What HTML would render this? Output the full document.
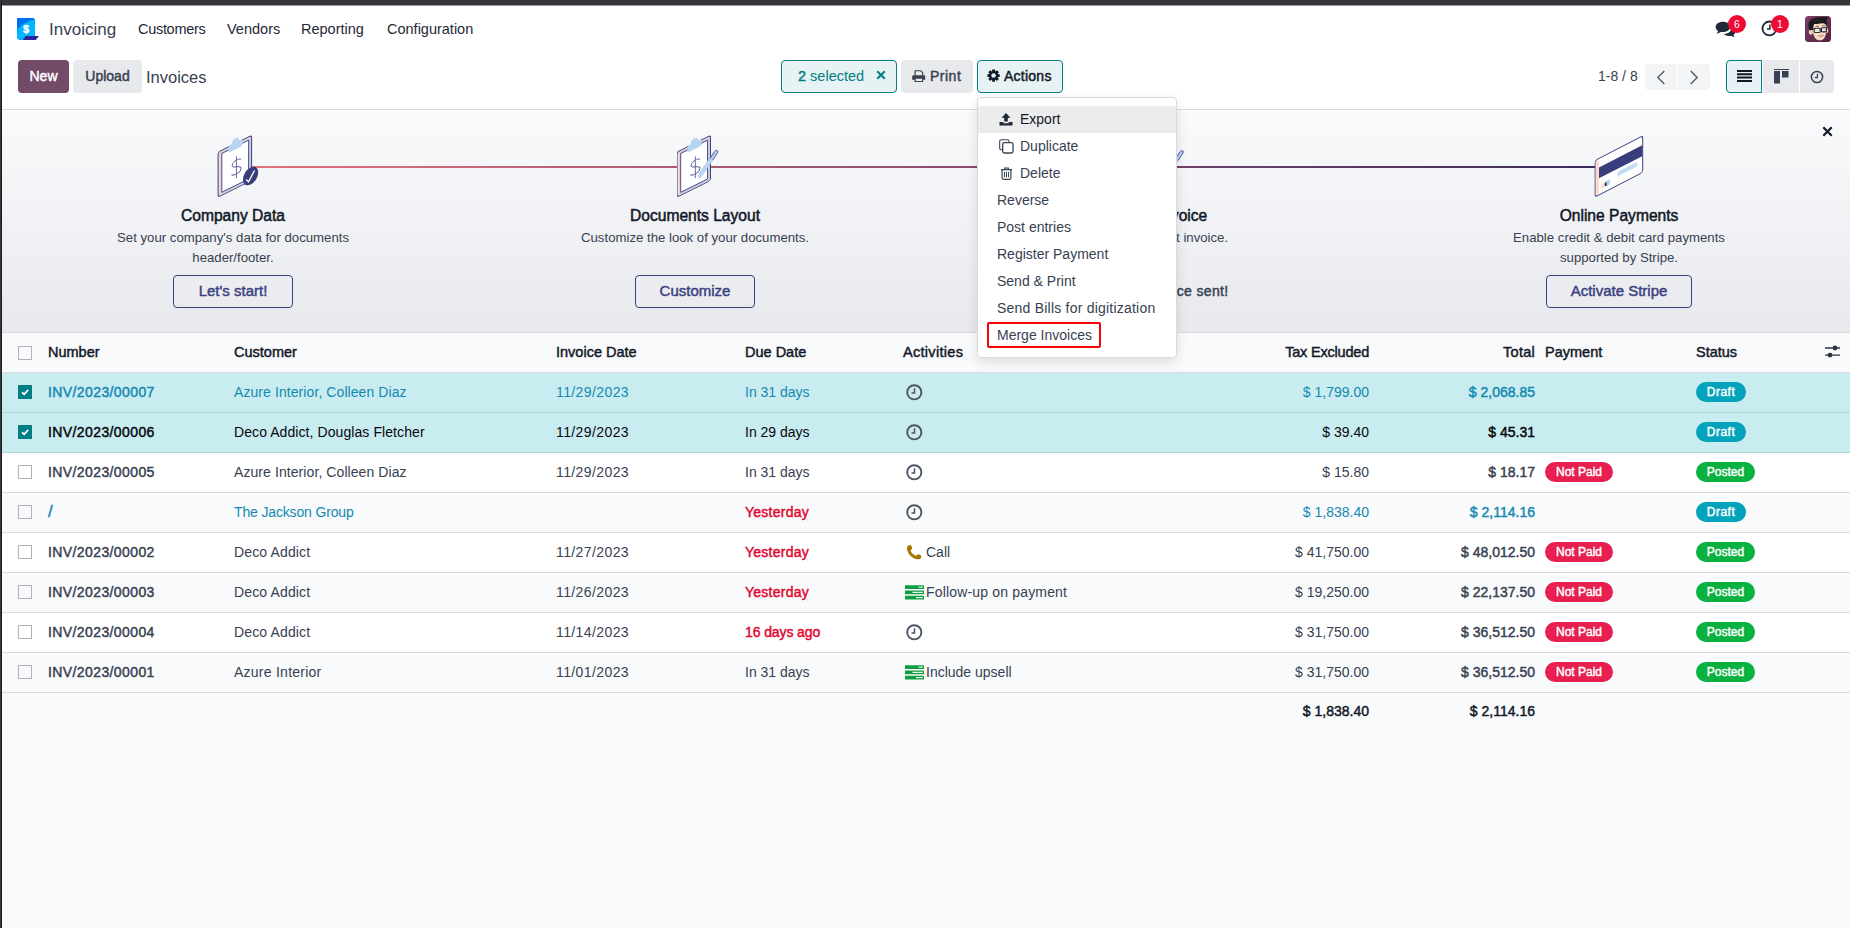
<!DOCTYPE html>
<html lang="en">
<head>
<meta charset="utf-8">
<title>Odoo - Invoices</title>
<style>
*{box-sizing:border-box;margin:0;padding:0}
html,body{width:1850px;height:928px;overflow:hidden}
body{font-family:"Liberation Sans",sans-serif;font-size:14px;color:#374151;background:#f9fafb;position:relative}
.abs{position:absolute}
#topbar{left:0;top:0;width:1850px;height:6px;background:linear-gradient(180deg,#36353a 0,#36353a 5px,#9b9a9d 5px,#9b9a9d 6px);z-index:5}
#leftbar{z-index:6;left:0;top:0;width:2px;height:928px;background:linear-gradient(90deg,#393939 0,#393939 1px,#1a1a1a 1px,#1a1a1a 2px)}
#navbar{left:0;top:5px;width:1850px;height:46px;background:#fff}
#cpanel{left:0;top:51px;width:1850px;height:59px;background:#fff;border-bottom:1px solid #d8dadd}
.nav{position:absolute;top:0;height:46px;line-height:48px;font-size:14.5px;color:#1f2937;white-space:nowrap}
.btn{position:absolute;border-radius:4px;font-size:14px;font-weight:400;-webkit-text-stroke:.45px;text-align:center;white-space:nowrap;height:33px;line-height:32px;top:9px}
.btn-primary{background:#714b67;color:#fff}
.btn-sec{background:#e7e9ed;color:#374151}
.btn-sel{background:#e6f2f3;border:1px solid #017e84;color:#017e84;line-height:30px}
.bdg{width:18px;height:18px;border-radius:9px;background:#ee0a35;color:#fff;font-size:10.500px;line-height:18px;text-align:center}
.ic{position:absolute}
.pg{position:absolute;top:13px;height:26px;width:32px;background:#f3f4f6}
.vs{position:absolute;top:9px;height:33px;background:#e7e9ed}

#onboard{left:0;top:110px;width:1850px;height:223px;background:linear-gradient(180deg,#f9fafb 0%,#f1f2f5 50%,#e7e9ed 100%);border-bottom:1px solid #d8dadd;overflow:hidden}
#obline{left:233px;top:56px;width:1386px;height:2px;background:linear-gradient(90deg,#e4737f,#382b5e)}
.step{top:0;width:462px;height:222px}
.st-t{left:0;width:462px;top:96px;text-align:center;font-size:15.600px;font-weight:400;-webkit-text-stroke:.5px;color:#111827;line-height:20px}
.st-d{left:0;width:462px;top:118px;text-align:center;font-size:13.200px;line-height:20px;color:#374151}
.st-b{top:165px;height:33px;line-height:29.500px;border:1px solid #3b3f7f;border-radius:4px;text-align:center;color:#3b3f7f;font-weight:400;-webkit-text-stroke:.45px;font-size:15px}
.st-done{left:0;width:462px;top:171px;text-align:center;font-weight:400;-webkit-text-stroke:.45px;font-size:14px;color:#374151;line-height:20px}
#list{left:0;top:333px;width:1850px;height:400px}
.row{position:absolute;left:0;width:1850px;height:40px;border-bottom:1px solid #d8dadd;background:#fff;line-height:39px;white-space:nowrap}
.row.odd{background:#f9fafb}
.row.sel{background:#c9ecf0;border-bottom-color:#b1d5da}
.row.hd{background:#f9fafb;font-weight:400;-webkit-text-stroke:.45px;color:#111827;font-size:14.500px}
.row.ft{background:#f9fafb;border-bottom:0;line-height:37px}
.row.info{color:#1489b0}
.row.blk{color:#06080d}
.c{position:absolute;top:0}
.c.m{font-weight:400;-webkit-text-stroke:.45px}
.c.n{letter-spacing:.4px}
.c.d{letter-spacing:.4px}
.c.b{font-weight:400;-webkit-text-stroke:.45px;color:#111827}
.c.late{color:#e0062f;font-weight:400;-webkit-text-stroke:.45px;letter-spacing:.25px}
.cb{position:absolute;left:18px;top:12px;width:14px;height:14px;border:1px solid #b2b3b6;border-radius:.500px;background:transparent}
.cb.on{background:#017e84;border-color:#017e84;border-radius:.500px}
.cb svg{position:absolute;left:-1px;top:-1px}
.pill{position:absolute;top:9px;height:20px;line-height:21px;border-radius:10px;text-align:center;font-size:12px;font-weight:400;-webkit-text-stroke:.45px;color:#fff}
.pill.dr{background:#02a3ba;width:50px;letter-spacing:.5px}
.pill.po{background:#08b140;width:59px}
.pill.np{background:#e7204f;width:68px}
#menu{left:977px;top:97px;width:200px;height:261px;background:#fff;border:1px solid #d8dadd;border-radius:4px;box-shadow:0 4px 12px rgba(0,0,0,.12)}
.mi{position:absolute;left:0;width:198px;height:27px;line-height:27px;font-size:14px;color:#374151;white-space:nowrap}
.mi.hov{background:#ececec;color:#111827}
#redbox{left:9px;top:223.500px;width:114px;height:26px;border:2px solid #f80008;border-radius:2px}
</style>
</head>
<body>
<div id="topbar" class="abs"></div>

<!-- ============ NAVBAR ============ -->
<div id="navbar" class="abs">
  <svg class="abs" style="left:17px;top:13px" width="23" height="22" viewBox="0 0 23 22">
    <defs><clipPath id="lg"><path d="M0 0H16.4L18 1.5V18.1H8.6L5.7 22H4Q0 22 0 18Z"/></clipPath></defs>
    <path d="M0 0H16.4L18 1.5V18.1H8.6L5.7 22H4Q0 22 0 18Z" fill="#0070f2"/>
    <circle cx="22.4" cy="29.6" r="28.5" fill="#00b6ff" clip-path="url(#lg)"/>
    <path d="M8.6 18.1H21.9L18.8 21.9H5.7Z" fill="#27279a"/>
    <text x="9" y="14.9" font-family="Liberation Sans" font-weight="700" font-size="11" fill="#fff" text-anchor="middle" stroke="#fff" stroke-width="0.4">$</text>
  </svg>
  <span class="nav" id="brand" style="left:49px;top:1px;font-size:17px;color:#374151">Invoicing</span>
  <span class="nav" style="left:138px;letter-spacing:-.3px">Customers</span>
  <span class="nav" style="left:227px">Vendors</span>
  <span class="nav" style="left:301px">Reporting</span>
  <span class="nav" style="left:387px">Configuration</span>

  <!-- systray -->
  <svg class="abs" style="left:1715px;top:16.3px" width="22" height="17.6" viewBox="0 0 20 16">
    <path d="M7.2 0.6C3.4 0.6 0.6 2.7 0.6 5.4c0 1.5 0.9 2.8 2.3 3.7c-0.2 0.8-0.7 1.6-1.4 2.2c1.4-0.1 2.7-0.6 3.7-1.4c0.6 0.1 1.3 0.2 2 0.2c3.8 0 6.6-2.1 6.6-4.8S11 0.6 7.2 0.6Z" fill="#1f2937"/>
    <path d="M15 6.3c0 2.9-3.1 5.3-7 5.5c1.1 1.1 2.9 1.8 4.9 1.8c0.6 0 1.200-0.100 1.800-0.200c0.900 0.700 2.100 1.200 3.300 1.300c-0.600-0.600-1-1.300-1.200-2c1.100-0.800 1.800-1.900 1.800-3.100c0-1.700-1.400-3.100-3.400-3.800c0 0.200-0.200 0.300-0.200 0.500Z" fill="#1f2937"/>
  </svg>
  <div class="abs bdg" style="left:1728px;top:9.700px">6</div>
  <svg class="abs" style="left:1761px;top:15px" width="17" height="17" viewBox="0 0 17 17">
    <circle cx="8.4" cy="8.4" r="6.9" fill="#fff" stroke="#1f2937" stroke-width="1.8"/>
    <path d="M8.9 4.6V9.1H6" fill="none" stroke="#1f2937" stroke-width="1.5"/>
  </svg>
  <div class="abs bdg" style="left:1771px;top:9.700px">1</div>
  <svg class="abs" style="left:1805px;top:11px" width="26" height="26" viewBox="0 0 26 26">
    <defs>
      <linearGradient id="avg" x1="0" y1="0" x2="1" y2="1"><stop offset="0" stop-color="#7a4068"/><stop offset="1" stop-color="#57203f"/></linearGradient>
      <clipPath id="avc"><rect width="26" height="26" rx="3.5"/></clipPath>
    </defs>
    <g clip-path="url(#avc)">
      <rect width="26" height="26" fill="url(#avg)"/>
      <ellipse cx="5.900" cy="16" rx="2.100" ry="2.800" fill="#f3cdb0"/>
      <ellipse cx="22" cy="14.600" rx="1.300" ry="2.400" fill="#f3cdb0"/>
      <path d="M8 8C8.200 5.500 20.800 5 21.300 9C21.700 13 21.400 18 19.600 21.500C17.800 24.900 12.500 25.300 10.500 22.600C8.200 19.500 7.500 14 8 8Z" fill="#fae0c6"/>
      <path d="M12 22.800C10 20.500 9 17 8.600 14C10 19 12.500 22 16 23.800C14.500 24.400 13 23.900 12 22.800Z" fill="#f6d0b2"/>
      <path d="M4.300 13.800C2.300 8 4 3.800 9 2.300C13 1 18 1.200 22.200 1C23 2 22.400 3.500 21.400 4.300C22.700 6 22.300 8.500 21.300 10C20.700 8 19.400 7 17.500 7.200C14 7.600 11.500 8.300 9.200 7.900C8.300 9.500 8.400 11.500 8.100 13.600C6.800 14.500 5.200 14.600 4.300 13.800Z" fill="#1a1a1c"/>
      <path d="M7 6.500C9.500 4.800 13 4 17.500 4.500C14 3 9 3.500 7 6.500Z" fill="#3a3a3e"/>
      <rect x="9.200" y="12.200" width="6" height="4.300" rx="0.900" fill="#ece8e4" stroke="#26262a" stroke-width="1.150"/>
      <rect x="16.400" y="11.700" width="5" height="4.200" rx="0.900" fill="#ece8e4" stroke="#26262a" stroke-width="1.150"/>
      <path d="M15.200 13.800H16.400M9.200 13.400L7.600 12.900" stroke="#26262a" stroke-width="1" fill="none"/>
      <path d="M10.500 10.600C11.500 10 13 10 14 10.500M17 10C18 9.500 19.500 9.500 20.500 10" stroke="#3a2a22" stroke-width="0.700" fill="none"/>
      <path d="M15.300 17.600C15.800 18.100 16.800 18.100 17.300 17.600" stroke="#e9a590" stroke-width="0.800" fill="none"/>
      <path d="M13 19.300C14.800 19.900 17 19.700 18.600 19C18.200 21.300 14 21.800 13 19.300Z" fill="#f4f0ec" stroke="#b4685a" stroke-width="0.600"/>
    </g>
  </svg>
</div>

<!-- ============ CONTROL PANEL ============ -->
<div id="cpanel" class="abs">
  <div class="btn btn-primary" style="left:18px;width:51px">New</div>
  <div class="btn btn-sec" style="left:73px;width:69px">Upload</div>
  <span class="abs" id="bc" style="left:146px;top:14px;font-size:16.5px;line-height:24px;color:#374151">Invoices</span>

  <div class="btn btn-sel" style="left:781px;width:116px;-webkit-text-stroke:0;text-align:left;font-size:14.5px">
    <span class="abs" style="left:16px;top:0"><span style="-webkit-text-stroke:.45px">2</span> selected</span>
    <svg class="abs" style="left:94px;top:9px" width="10" height="10" viewBox="0 0 10 10"><path d="M1.200 1.200L8.800 8.800M8.800 1.200L1.200 8.800" stroke="#017e84" stroke-width="2" fill="none"/></svg>
  </div>
  <div class="btn btn-sec" style="left:901px;width:72px;text-align:left">
    <svg class="abs" style="left:11px;top:10px" width="14" height="13" viewBox="0 0 14 13">
      <path d="M3.100 5.400V0.700H8.700L10.600 2.600V5.400" fill="none" stroke="#374151" stroke-width="1.150"/>
      <path d="M1.400 5.300H12Q13.200 5.300 13.200 6.500V9.700H10.600V8.800H3.100V9.700H0.200V6.500Q0.200 5.300 1.400 5.300Z" fill="#374151"/>
      <path d="M3.100 8.800V11.500H10.600V8.800" fill="none" stroke="#374151" stroke-width="1.150"/>
    </svg>
    <span class="abs" style="left:29px;top:0;letter-spacing:.5px">Print</span>
  </div>
  <div class="btn btn-sel" style="left:977px;width:86px;color:#111827;text-align:left">
    <svg class="abs" style="left:9.300px;top:8.400px" width="13.200" height="13.200" viewBox="-7 -7 14 14">
      <g fill="#111827">
        <rect x="-1.500" y="-6.500" width="3" height="13"/>
        <rect x="-1.500" y="-6.500" width="3" height="13" transform="rotate(45)"/>
        <rect x="-1.500" y="-6.500" width="3" height="13" transform="rotate(90)"/>
        <rect x="-1.500" y="-6.500" width="3" height="13" transform="rotate(135)"/>
      </g>
      <circle r="3.700" fill="none" stroke="#111827" stroke-width="2.400"/>
      <circle r="2.400" fill="#e6f2f3"/>
    </svg>
    <span class="abs" style="left:26px;top:0;letter-spacing:.25px">Actions</span>
  </div>

  <span class="abs" id="pgr" style="left:1598px;top:14px;font-size:14px;line-height:22px;color:#374151">1-8 / 8</span>
  <div class="pg" style="left:1645px;border-radius:4px 0 0 4px"><svg class="abs" style="left:11px;top:6px" width="10" height="15" viewBox="0 0 10 15"><path d="M8.300 1L1.800 7.500L8.300 14" fill="none" stroke="#4b5563" stroke-width="1.300"/></svg></div>
  <div class="pg" style="left:1678px;border-radius:0 4px 4px 0"><svg class="abs" style="left:11px;top:6px" width="10" height="15" viewBox="0 0 10 15"><path d="M1.700 1L8.200 7.500L1.700 14" fill="none" stroke="#4b5563" stroke-width="1.300"/></svg></div>

  <div class="vs" style="left:1726px;width:36px;background:#e6f2f3;border:1px solid #017e84;border-radius:4px 0 0 4px">
    <svg class="abs" style="left:10px;top:9px" width="15" height="12" viewBox="0 0 15 12"><path d="M0 1H15M0 4.300H15M0 7.600H15M0 10.900H15" stroke="#111827" stroke-width="2"/></svg>
  </div>
  <div class="vs" style="left:1763px;width:36px">
    <svg class="abs" style="left:11px;top:9px" width="15" height="15" viewBox="0 0 15 15"><path d="M0 0.500H15" stroke="#374151" stroke-width="1"/><rect x="0" y="2" width="6" height="12.500" fill="#374151"/><rect x="8" y="2" width="6.500" height="6.500" fill="#374151"/></svg>
  </div>
  <div class="vs" style="left:1800px;width:34px;border-radius:0 4px 4px 0">
    <svg class="abs" style="left:10px;top:10px" width="14" height="14" viewBox="0 0 14 14"><circle cx="7" cy="7" r="5.600" fill="none" stroke="#374151" stroke-width="1.500"/><path d="M7.400 3.800V7.600H4.800" fill="none" stroke="#374151" stroke-width="1.300"/></svg>
  </div>
</div>

<div id="onboard" class="abs">

  <svg width="0" height="0" style="position:absolute">
    <defs>
      <g id="board">
        <g transform="translate(3.1,22) skewY(-26.3)">
          <rect x="0" y="0" width="33.500" height="45" rx="2.200" fill="#fcd9cc" stroke="#3b3f7f" stroke-width="1"/>
          <path d="M2.500 1.600H31.200Q32.900 1.600 32.900 3.300V43.400Q32.900 44.400 31.900 44.400H2.500Z" fill="#c9cce0"/>
          <rect x="3.700" y="3.300" width="26.800" height="38.800" fill="#fff" stroke="#3b3f7f" stroke-width="0.800"/>
          <path d="M10.400 4V1.200Q10.400 -1 12.600 -1H13.600Q14 -5 17.500 -5Q21 -5 21.400 -1H22.400Q24.600 -1 24.600 1.200V4Q24.600 6 22.600 6H12.400Q10.400 6 10.400 4Z" fill="#b7d4f3"/>
          <path transform="translate(0,5.200)" d="M22.800 13.300C21 11.400 14.300 11.100 14 15.300C13.800 19.500 23.200 18 23 22.500C22.800 26.700 15.300 26.400 13.400 24.200M18.300 8.200V30" fill="none" stroke="#5a5e9c" stroke-width="0.900"/>
        </g>
      </g>
    </defs>
  </svg>
  <div class="abs" id="obline"></div>
  <div class="abs step" style="left:2px">
    <svg class="abs" style="left:213px;top:20px" width="60" height="70" viewBox="0 0 60 70"><use href="#board"/><ellipse cx="35.600" cy="46" rx="6.400" ry="10.200" transform="rotate(32 35.600 46)" fill="#383d7c"/><path d="M31.200 49.500L33.500 51.800L39.500 40.500" fill="none" stroke="#fff" stroke-width="1.300"/></svg>
    <div class="abs st-t">Company Data</div>
    <div class="abs st-d">Set your company's data for documents<br>header/footer.</div>
    <div class="abs st-b" style="left:171px;width:120px">Let's start!</div>
  </div>
  <div class="abs step" style="left:464px">
    <svg class="abs" style="left:213px;top:20px" width="60" height="70" viewBox="0 0 60 70"><g transform="translate(-3.100,0)"><use href="#board"/><g transform="translate(2.200,-10.300)"><path d="M22.500 57.300C21.800 55 27 48 38.500 31.800C40.500 29.800 42.500 30.500 41.500 32.800C33 46 27 54.500 24.500 57.500C23.500 58.500 22.800 58 22.500 57.300Z" fill="#b7d4f3" stroke="#b7d4f3" stroke-width="0.900"/><path d="M33.500 39.500L38.300 32C40.300 29.800 42.600 30.600 41.400 33L36.500 40.500" fill="none" stroke="#3b3f7f" stroke-width="0.800"/></g></g></svg>
    <div class="abs st-t">Documents Layout</div>
    <div class="abs st-d">Customize the look of your documents.</div>
    <div class="abs st-b" style="left:171px;width:120px">Customize</div>
  </div>
  <div class="abs step" style="left:926px">
    <svg class="abs" style="left:213px;top:20px" width="60" height="70" viewBox="0 0 60 70"><g transform="translate(0.400,0.300)"><use href="#board"/><g transform="translate(2.200,-10.300)"><path d="M22.500 57.300C21.800 55 27 48 38.500 31.800C40.500 29.800 42.500 30.500 41.500 32.800C33 46 27 54.500 24.500 57.500C23.500 58.500 22.800 58 22.500 57.300Z" fill="#b7d4f3" stroke="#b7d4f3" stroke-width="0.900"/><path d="M33.500 39.500L38.300 32C40.300 29.800 42.600 30.600 41.400 33L36.500 40.500" fill="none" stroke="#3b3f7f" stroke-width="0.800"/></g></g></svg>
    <div class="abs st-t">Create Invoice</div>
    <div class="abs st-d">Create your first invoice.</div>
    <div class="abs st-done" style="left:auto;right:159.500px;width:auto;white-space:nowrap;letter-spacing:.35px"><svg width="13" height="11" viewBox="0 0 13 11" style="vertical-align:-1px;margin-right:5px"><path d="M1 6L4.700 9.500L12 1.500" fill="none" stroke="#374151" stroke-width="2.200"/></svg>Invoice sent!</div>
  </div>
  <div class="abs step" style="left:1388px">
    <svg class="abs" style="left:201px;top:20px" width="60" height="70" viewBox="0 0 60 70"><path d="M5.500 40.800L51.200 16.700Q52.900 15.900 52.900 17.800V49.500Q52.900 50.500 52 51L9.500 75.400Q7.200 76.600 5.400 75.400Z" transform="translate(0,0)" fill="none"/>
<g transform="translate(6.200,30.300) skewY(-27.200)">
  <rect x="0" y="0" width="47.500" height="36.600" rx="2.200" fill="#fff" stroke="#3b3f7f" stroke-width="1"/>
  <rect x="0.500" y="1.500" width="3.200" height="33.600" fill="#fcd9cc"/>
  <rect x="3.800" y="9.200" width="43.200" height="10.800" fill="#383d7c"/>
  <rect x="22" y="23.200" width="20.500" height="4.400" rx="2.200" fill="#c3dbf6"/>
  <ellipse cx="8.800" cy="29.200" rx="2.800" ry="3.100" fill="#fcd9cc"/>
  <ellipse cx="12.300" cy="29.200" rx="2.800" ry="3.100" fill="#b7d4f3"/>
  <path d="M10.550 27A2.800 3.100 0 0 1 10.550 31.400A2.800 3.100 0 0 1 10.550 27Z" fill="#1f2350"/>
</g></svg>
    <div class="abs st-t">Online Payments</div>
    <div class="abs st-d">Enable credit &amp; debit card payments<br>supported by Stripe.</div>
    <div class="abs st-b" style="left:158px;width:146px">Activate Stripe</div>
  </div>
  <svg class="abs" style="left:1822px;top:16px" width="11" height="11" viewBox="0 0 11 11"><path d="M1.300 1.300L9.700 9.700M9.700 1.300L1.300 9.700" stroke="#111827" stroke-width="2.200" fill="none"/></svg>
</div>
<div id="list" class="abs">
  <div class="row hd" style="top:0"><span class="cb" style="top:13px"></span><span class="c" style="left:48px">Number</span><span class="c" style="left:234px">Customer</span><span class="c" style="left:556px">Invoice Date</span><span class="c" style="left:745px">Due Date</span><span class="c" style="left:903px;letter-spacing:.3px">Activities</span><span class="c r" style="right:481px;letter-spacing:-.2px">Tax Excluded</span><span class="c r" style="right:315px;letter-spacing:.25px">Total</span><span class="c" style="left:1545px">Payment</span><span class="c" style="left:1696px">Status</span><svg class="abs" style="left:1825px;top:12.400px" width="15" height="13" viewBox="0 0 15 13"><path d="M0 3H15M0 10.100H15" stroke="#2b3342" stroke-width="1.300"/><circle cx="10" cy="3" r="2.400" fill="#2b3342"/><circle cx="5" cy="10.100" r="2.400" fill="#2b3342"/></svg></div>
  <div class="row sel info" style="top:40px"><span class="cb on"><svg width="14" height="14" viewBox="0 0 14 14"><path d="M4 7.300L6.200 9.300L10.200 4.900" fill="none" stroke="#fff" stroke-width="1.700"/></svg></span><span class="c m n" style="left:48px">INV/2023/00007</span><span class="c" style="left:234px;letter-spacing:.08px">Azure Interior, Colleen Diaz</span><span class="c d" style="left:556px">11/29/2023</span><span class="c" style="left:745px">In 31 days</span><svg class="abs" style="left:905px;top:10px" width="18" height="18" viewBox="0 0 18 18"><circle cx="9.300" cy="9.300" r="7.100" fill="none" stroke="#4b5563" stroke-width="1.900"/><path d="M9.500 5.300V9.900H6.500" fill="none" stroke="#4b5563" stroke-width="1.500"/></svg><span class="c r" style="right:481px">$ 1,799.00</span><span class="c r m" style="right:315px">$ 2,068.85</span><span class="pill dr" style="left:1696px">Draft</span></div>
  <div class="row sel blk" style="top:80px"><span class="cb on"><svg width="14" height="14" viewBox="0 0 14 14"><path d="M4 7.300L6.200 9.300L10.200 4.900" fill="none" stroke="#fff" stroke-width="1.700"/></svg></span><span class="c m n" style="left:48px">INV/2023/00006</span><span class="c" style="left:234px;letter-spacing:.08px">Deco Addict, Douglas Fletcher</span><span class="c d" style="left:556px">11/29/2023</span><span class="c" style="left:745px">In 29 days</span><svg class="abs" style="left:905px;top:10px" width="18" height="18" viewBox="0 0 18 18"><circle cx="9.300" cy="9.300" r="7.100" fill="none" stroke="#4b5563" stroke-width="1.900"/><path d="M9.500 5.300V9.900H6.500" fill="none" stroke="#4b5563" stroke-width="1.500"/></svg><span class="c r" style="right:481px">$ 39.40</span><span class="c r m" style="right:315px">$ 45.31</span><span class="pill dr" style="left:1696px">Draft</span></div>
  <div class="row" style="top:120px"><span class="cb"></span><span class="c m n" style="left:48px">INV/2023/00005</span><span class="c" style="left:234px;letter-spacing:.08px">Azure Interior, Colleen Diaz</span><span class="c d" style="left:556px">11/29/2023</span><span class="c" style="left:745px">In 31 days</span><svg class="abs" style="left:905px;top:10px" width="18" height="18" viewBox="0 0 18 18"><circle cx="9.300" cy="9.300" r="7.100" fill="none" stroke="#4b5563" stroke-width="1.900"/><path d="M9.500 5.300V9.900H6.500" fill="none" stroke="#4b5563" stroke-width="1.500"/></svg><span class="c r" style="right:481px">$ 15.80</span><span class="c r m" style="right:315px">$ 18.17</span><span class="pill np" style="left:1545px">Not Paid</span><span class="pill po" style="left:1696px">Posted</span></div>
  <div class="row odd info" style="top:160px"><span class="cb"></span><span class="c m n" style="left:48px;font-size:17px;line-height:37px">/</span><span class="c" style="left:234px;letter-spacing:-.15px">The Jackson Group</span><span class="c late" style="left:745px">Yesterday</span><svg class="abs" style="left:905px;top:10px" width="18" height="18" viewBox="0 0 18 18"><circle cx="9.300" cy="9.300" r="7.100" fill="none" stroke="#4b5563" stroke-width="1.900"/><path d="M9.500 5.300V9.900H6.500" fill="none" stroke="#4b5563" stroke-width="1.500"/></svg><span class="c r" style="right:481px">$ 1,838.40</span><span class="c r m" style="right:315px">$ 2,114.16</span><span class="pill dr" style="left:1696px">Draft</span></div>
  <div class="row" style="top:200px"><span class="cb"></span><span class="c m n" style="left:48px">INV/2023/00002</span><span class="c" style="left:234px;letter-spacing:.14px">Deco Addict</span><span class="c d" style="left:556px">11/27/2023</span><span class="c late" style="left:745px">Yesterday</span><svg class="abs" style="left:906.700px;top:11.600px" width="15" height="15" viewBox="0 0 15 15"><path d="M2.700 0C4 0 5.400 2 5.100 3.400C4.900 4.300 3.500 5 3.600 5.900C4.600 8.200 6.600 10 9.200 10.800C10 10.600 10.300 9.200 11.200 9.300C12.600 9.400 14.600 10.700 14.400 12C14.200 13.400 12.400 14.400 10.800 14.300C5.500 14 0.200 8.600 0 3.400C-0.100 1.600 1.200 0 2.700 0Z" fill="#a87500"/></svg><span class="c" style="left:926px">Call</span><span class="c r" style="right:481px">$ 41,750.00</span><span class="c r m" style="right:315px">$ 48,012.50</span><span class="pill np" style="left:1545px">Not Paid</span><span class="pill po" style="left:1696px">Posted</span></div>
  <div class="row odd" style="top:240px"><span class="cb"></span><span class="c m n" style="left:48px">INV/2023/00003</span><span class="c" style="left:234px;letter-spacing:.14px">Deco Addict</span><span class="c d" style="left:556px">11/26/2023</span><span class="c late" style="left:745px">Yesterday</span><svg class="abs" style="left:905px;top:12px" width="19" height="15" viewBox="0 0 19 15"><rect x="0" y="0.200" width="19" height="3.900" rx="0.600" fill="#0f9e40"/><rect x="0" y="5.450" width="19" height="3.900" rx="0.600" fill="#0f9e40"/><rect x="0" y="10.700" width="19" height="3.900" rx="0.600" fill="#0f9e40"/><path d="M13.500 2.150H17.800M7.500 7.400H17.800M11 12.650H17.800" stroke="#d8f3e0" stroke-width="1.100"/></svg><span class="c" style="left:926px;letter-spacing:.17px">Follow-up on payment</span><span class="c r" style="right:481px">$ 19,250.00</span><span class="c r m" style="right:315px">$ 22,137.50</span><span class="pill np" style="left:1545px">Not Paid</span><span class="pill po" style="left:1696px">Posted</span></div>
  <div class="row" style="top:280px"><span class="cb"></span><span class="c m n" style="left:48px">INV/2023/00004</span><span class="c" style="left:234px;letter-spacing:.14px">Deco Addict</span><span class="c d" style="left:556px">11/14/2023</span><span class="c late" style="left:745px;letter-spacing:-.1px">16 days ago</span><svg class="abs" style="left:905px;top:10px" width="18" height="18" viewBox="0 0 18 18"><circle cx="9.300" cy="9.300" r="7.100" fill="none" stroke="#4b5563" stroke-width="1.900"/><path d="M9.500 5.300V9.900H6.500" fill="none" stroke="#4b5563" stroke-width="1.500"/></svg><span class="c r" style="right:481px">$ 31,750.00</span><span class="c r m" style="right:315px">$ 36,512.50</span><span class="pill np" style="left:1545px">Not Paid</span><span class="pill po" style="left:1696px">Posted</span></div>
  <div class="row odd" style="top:320px"><span class="cb"></span><span class="c m n" style="left:48px">INV/2023/00001</span><span class="c" style="left:234px;letter-spacing:.25px">Azure Interior</span><span class="c d" style="left:556px">11/01/2023</span><span class="c" style="left:745px">In 31 days</span><svg class="abs" style="left:905px;top:12px" width="19" height="15" viewBox="0 0 19 15"><rect x="0" y="0.200" width="19" height="3.900" rx="0.600" fill="#0f9e40"/><rect x="0" y="5.450" width="19" height="3.900" rx="0.600" fill="#0f9e40"/><rect x="0" y="10.700" width="19" height="3.900" rx="0.600" fill="#0f9e40"/><path d="M13.500 2.150H17.800M7.500 7.400H17.800M11 12.650H17.800" stroke="#d8f3e0" stroke-width="1.100"/></svg><span class="c" style="left:926px">Include upsell</span><span class="c r" style="right:481px">$ 31,750.00</span><span class="c r m" style="right:315px">$ 36,512.50</span><span class="pill np" style="left:1545px">Not Paid</span><span class="pill po" style="left:1696px">Posted</span></div>
  <div class="row ft" style="top:360px"><span class="c r b" style="right:481px">$ 1,838.40</span><span class="c r b" style="right:315px">$ 2,114.16</span></div>
</div>
<div id="menu" class="abs">
  <div class="mi hov" style="top:8px"><svg class="abs" style="left:21px;top:7px" width="14" height="13" viewBox="0 0 14 13"><path d="M7 0L11.500 4.700H8.800V8.500H5.200V4.700H2.500Z" fill="#1f2937"/><path d="M0.500 9H4.300V10.300H9.700V9H13.500V12.600H0.500Z" fill="#1f2937"/></svg><span class="abs" style="left:42px;top:0">Export</span></div>
  <div class="mi" style="top:35px"><svg class="abs" style="left:21px;top:6px" width="15" height="15" viewBox="0 0 15 15"><rect x="0.700" y="0.700" width="9.300" height="10" rx="1.500" fill="none" stroke="#374151" stroke-width="1.100"/><rect x="3.700" y="3.700" width="10.300" height="10.300" rx="1.500" fill="#fff" stroke="#374151" stroke-width="1.300"/></svg><span class="abs" style="left:42px;top:0">Duplicate</span></div>
  <div class="mi" style="top:62px"><svg class="abs" style="left:22px;top:7px" width="13" height="13" viewBox="0 0 13 13"><path d="M1 2.600H12M4.700 2.400V1H8.300V2.400" fill="none" stroke="#374151" stroke-width="1.200"/><path d="M2.100 2.800V11.100Q2.100 12.300 3.300 12.300H9.700Q10.900 12.300 10.900 11.100V2.800" fill="none" stroke="#374151" stroke-width="1.200"/><path d="M4.500 4.800V10.300M6.500 4.800V10.300M8.500 4.800V10.300" stroke="#374151" stroke-width="1"/></svg><span class="abs" style="left:42px;top:0">Delete</span></div>
  <div class="mi" style="top:89px"><span class="abs" style="left:19px;top:0">Reverse</span></div>
  <div class="mi" style="top:116px"><span class="abs" style="left:19px;top:0">Post entries</span></div>
  <div class="mi" style="top:143px"><span class="abs" style="left:19px;top:0">Register Payment</span></div>
  <div class="mi" style="top:170px"><span class="abs" style="left:19px;top:0">Send &amp; Print</span></div>
  <div class="mi" style="top:197px"><span class="abs" style="left:19px;top:0;letter-spacing:.22px">Send Bills for digitization</span></div>
  <div class="mi" style="top:224px"><span class="abs" style="left:19px;top:0">Merge Invoices</span></div>
  <div class="abs" id="redbox"></div>
</div>
<div id="leftbar" class="abs"></div>
</body>
</html>
